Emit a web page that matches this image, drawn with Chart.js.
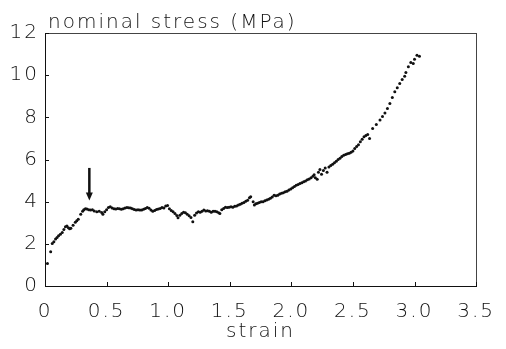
<!DOCTYPE html>
<html>
<head>
<meta charset="utf-8">
<script src="https://cdn.jsdelivr.net/npm/chart.js@4/dist/chart.umd.min.js"></script>
<style>
  html, body { margin: 0; padding: 0; background: #fff; }
  #wrap { width: 506px; height: 349px; }
</style>
</head>
<body>
<div id="wrap"><canvas id="c" width="506" height="349"></canvas></div>
<script>
// strain / nominal stress (MPa)
const strain = [
  0.020, 0.046, 0.059, 0.072, 0.086, 0.098, 0.110, 0.125, 0.140, 0.153,
  0.166, 0.178, 0.190, 0.200, 0.210, 0.228, 0.246, 0.258, 0.270, 0.290,
  0.305, 0.315, 0.328, 0.340, 0.355, 0.370, 0.385, 0.400, 0.420, 0.440,
  0.460, 0.470, 0.485, 0.500, 0.515, 0.530, 0.545, 0.560, 0.575, 0.590,
  0.605, 0.620, 0.635, 0.650, 0.665, 0.680, 0.695, 0.710, 0.725, 0.740,
  0.755, 0.770, 0.785, 0.800, 0.815, 0.830, 0.845, 0.860, 0.875, 0.890,
  0.905, 0.920, 0.935, 0.950, 0.965, 0.980, 0.995, 1.010, 1.025, 1.040,
  1.055, 1.070, 1.080, 1.095, 1.110, 1.125, 1.140, 1.155, 1.170, 1.185,
  1.200, 1.215, 1.230, 1.245, 1.260, 1.275, 1.290, 1.305, 1.320, 1.335,
  1.350, 1.365, 1.380, 1.395, 1.410, 1.420, 1.435, 1.450, 1.465, 1.480,
  1.495, 1.510, 1.525, 1.540, 1.555, 1.570, 1.585, 1.600, 1.615, 1.630,
  1.645, 1.660, 1.670, 1.690, 1.700, 1.712, 1.725, 1.740, 1.755, 1.770,
  1.785, 1.800, 1.815, 1.830, 1.845, 1.860, 1.875, 1.890, 1.905, 1.920,
  1.935, 1.950, 1.965, 1.980, 1.995, 2.010, 2.025, 2.040, 2.055, 2.070,
  2.085, 2.100, 2.115, 2.130, 2.145, 2.160, 2.175, 2.185, 2.195, 2.210,
  2.220, 2.232, 2.245, 2.260, 2.275, 2.290, 2.305, 2.320, 2.335, 2.350,
  2.365, 2.380, 2.395, 2.410, 2.425, 2.440, 2.455, 2.470, 2.485, 2.500,
  2.515, 2.530, 2.545, 2.560, 2.575, 2.590, 2.605, 2.620, 2.635, 2.660,
  2.690, 2.720, 2.740, 2.760, 2.780, 2.800, 2.820, 2.840, 2.860, 2.880,
  2.900, 2.920, 2.930, 2.950, 2.970, 2.990, 3.000, 3.020, 3.040
];
const stress = [
  1.07, 1.63, 2.02, 2.10, 2.23, 2.30, 2.38, 2.45, 2.54, 2.68,
  2.81, 2.84, 2.76, 2.72, 2.74, 2.88, 3.02, 3.10, 3.17, 3.40,
  3.55, 3.62, 3.66, 3.65, 3.62, 3.60, 3.62, 3.56, 3.52, 3.55,
  3.49, 3.40, 3.52, 3.62, 3.72, 3.76, 3.70, 3.66, 3.65, 3.68,
  3.66, 3.64, 3.66, 3.70, 3.72, 3.71, 3.70, 3.66, 3.63, 3.60,
  3.62, 3.60, 3.60, 3.64, 3.68, 3.72, 3.69, 3.60, 3.55, 3.58,
  3.63, 3.65, 3.68, 3.72, 3.70, 3.79, 3.82, 3.66, 3.58, 3.52,
  3.44, 3.34, 3.24, 3.36, 3.44, 3.50, 3.47, 3.40, 3.33, 3.25,
  3.05, 3.35, 3.46, 3.52, 3.50, 3.54, 3.60, 3.56, 3.57, 3.54,
  3.50, 3.55, 3.54, 3.52, 3.47, 3.44, 3.62, 3.68, 3.73, 3.72,
  3.74, 3.76, 3.74, 3.78, 3.80, 3.84, 3.88, 3.92, 3.96, 4.02,
  4.07, 4.18, 4.23, 4.00, 3.84, 3.90, 3.92, 3.96, 4.00, 4.00,
  4.04, 4.08, 4.12, 4.16, 4.22, 4.30, 4.28, 4.31, 4.36, 4.40,
  4.42, 4.47, 4.50, 4.55, 4.60, 4.66, 4.72, 4.78, 4.82, 4.86,
  4.90, 4.94, 4.98, 5.04, 5.08, 5.14, 5.20, 5.28, 5.14, 5.06,
  5.40, 5.53, 5.30, 5.48, 5.60, 5.40, 5.65, 5.72, 5.78, 5.84,
  5.92, 6.00, 6.06, 6.14, 6.20, 6.24, 6.27, 6.30, 6.34, 6.40,
  6.52, 6.62, 6.70, 6.84, 6.96, 7.08, 7.14, 7.18, 7.00, 7.47,
  7.66, 7.87, 8.04, 8.21, 8.42, 8.66, 8.94, 9.21, 9.40, 9.60,
  9.80, 9.95, 10.13, 10.40, 10.60, 10.55, 10.76, 10.95, 10.90
];
const xTicks = [0, 0.5, 1, 1.5, 2, 2.5, 3, 3.5];
const yTicks = [0, 2, 4, 6, 8, 10, 12];
const yTitle = 'nominal stress (MPa)';
const xTitle = 'strain';
// arrow marking the yield point
const arrowAt = { x: 0.36, from: 5.6, to: 4.05 };

const FONT = "'DejaVu Sans', sans-serif";
const INK = '#111';

const points = strain.map((s, i) => ({ x: s, y: stress[i] }));

// frame, inward ticks, title and the arrow
const decor = {
  id: 'decor',
  beforeDraw(chart) {
    // the original lettering is wide and airy
    chart.ctx.letterSpacing = '2px';
  },
  afterDraw(chart) {
    const ctx = chart.ctx;
    const sx = chart.scales.x, sy = chart.scales.y;
    const L = Math.round(sx.getPixelForValue(0));
    const R = Math.round(sx.getPixelForValue(3.5));
    const B = Math.round(sy.getPixelForValue(0));
    const T = Math.round(sy.getPixelForValue(12));
    ctx.save();
    ctx.fillStyle = INK;
    ctx.fillRect(L, B, R - L + 1, 1);
    ctx.fillRect(L, T, 1, B - T);
    ctx.fillStyle = '#444';
    ctx.fillRect(L, T, R - L, 1);
    ctx.fillRect(R, T, 1, B - T);
    ctx.fillStyle = INK;
    xTicks.forEach(v => ctx.fillRect(Math.round(sx.getPixelForValue(v)), B - 4, 1, 4));
    yTicks.forEach(v => ctx.fillRect(L, Math.round(sy.getPixelForValue(v)), 4, 1));

    ctx.font = '200 20px ' + FONT;
    ctx.textBaseline = 'alphabetic';
    ctx.textAlign = 'left';
    ctx.fillText(yTitle, L + 3, 28);

    const ax = sx.getPixelForValue(arrowAt.x);
    const y0 = sy.getPixelForValue(arrowAt.from);
    const y1 = sy.getPixelForValue(arrowAt.to);
    ctx.strokeStyle = INK;
    ctx.lineWidth = 2.5;
    ctx.beginPath();
    ctx.moveTo(ax, y0); ctx.lineTo(ax, y1 - 6);
    ctx.stroke();
    ctx.beginPath();
    ctx.moveTo(ax - 3.5, y1 - 8); ctx.lineTo(ax + 3.5, y1 - 8); ctx.lineTo(ax, y1);
    ctx.closePath();
    ctx.fill();
    ctx.restore();
  }
};

new Chart(document.getElementById('c'), {
  type: 'scatter',
  data: {
    datasets: [{
      data: points,
      pointRadius: 1.5,
      pointBackgroundColor: INK,
      pointBorderWidth: 0,
      showLine: false
    }]
  },
  options: {
    responsive: false,
    animation: false,
    layout: { padding: { top: 33, right: 25, bottom: 5, left: 0 } },
    plugins: { legend: { display: false }, tooltip: { enabled: false } },
    scales: {
      x: {
        type: 'linear', min: 0, max: 3.5,
        afterFit(s) { s.height = 58; },
        afterBuildTicks(s) { s.ticks = xTicks.map(v => ({ value: v })); },
        grid: { display: false, drawTicks: false },
        border: { display: false },
        ticks: { color: INK, padding: 14, maxRotation: 0, font: { family: FONT, size: 20, weight: 200 } },
        title: { display: true, text: xTitle, color: INK, padding: { top: 0, bottom: 0 }, font: { family: FONT, size: 20, weight: 200 } }
      },
      y: {
        type: 'linear', min: 0, max: 12,
        afterFit(s) { s.width = 45; },
        afterBuildTicks(s) { s.ticks = yTicks.map(v => ({ value: v })); },
        grid: { display: false, drawTicks: false },
        border: { display: false },
        ticks: { color: INK, padding: 6, font: { family: FONT, size: 20, weight: 200 } }
      }
    }
  },
  plugins: [decor]
});
</script>
</body>
</html>
